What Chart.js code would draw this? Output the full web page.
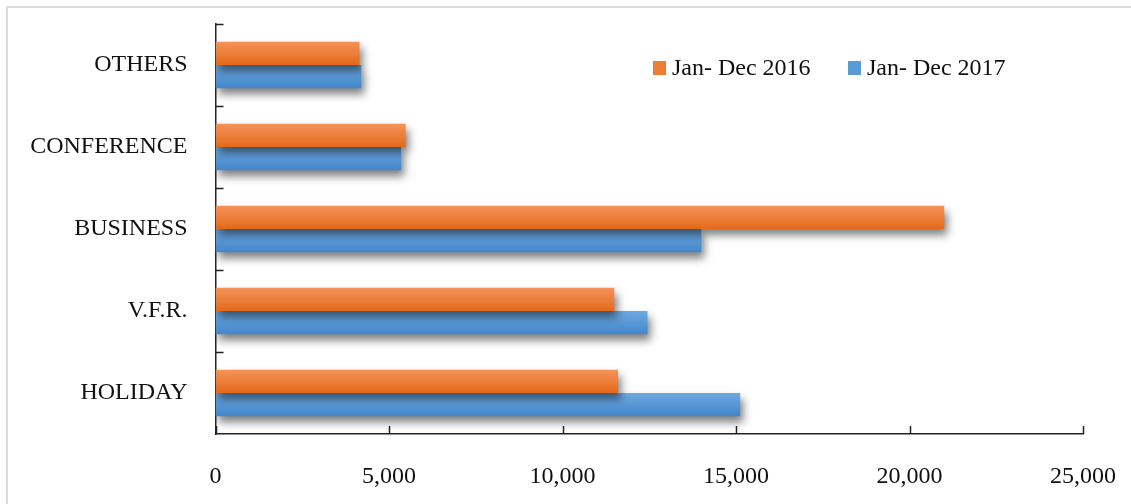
<!DOCTYPE html>
<html>
<head>
<meta charset="utf-8">
<script src="https://cdn.jsdelivr.net/npm/chart.js@4/dist/chart.umd.min.js"></script>
<style>
  html, body { margin: 0; padding: 0; background: #fff; }
  #wrap { width: 1131px; height: 504px; position: relative; }
</style>
</head>
<body>
<div id="wrap"><canvas id="c" width="1131" height="504"></canvas></div>
<script>
// Visitor arrivals by purpose of visit
const categories = ['OTHERS', 'CONFERENCE', 'BUSINESS', 'V.F.R.', 'HOLIDAY'];
const seriesLabels = ['Jan- Dec 2016', 'Jan- Dec 2017'];
const values2016 = [4150, 5480, 21000, 11490, 11600];
const values2017 = [4200, 5350, 14000, 12450, 15120];
const xTicks = [0, 5000, 10000, 15000, 20000, 25000];

const palette = [
  { top: '#f4935a', bottom: '#e4691a', swatch: '#ed7d31' },
  { top: '#6ea9e0', bottom: '#4286ca', swatch: '#5b9bd5' }
];
const serif = "'Liberation Serif', 'Times New Roman', serif";

// Vertical gradient on each bar plus a soft drop shadow
const barStyle = {
  id: 'barStyle',
  beforeDatasetsDraw(chart) {
    const ctx = chart.ctx;
    chart.data.datasets.forEach((ds, i) => {
      const meta = chart.getDatasetMeta(i);
      meta.data.forEach(el => {
        const h = el.height;
        const g = ctx.createLinearGradient(0, el.y - h / 2, 0, el.y + h / 2);
        g.addColorStop(0, palette[i].top);
        g.addColorStop(1, palette[i].bottom);
        // own copy per bar so shared option objects are not overwritten
        el.options = Object.assign({}, el.options, { backgroundColor: g });
      });
    });
    ctx.save();
    ctx.shadowColor = 'rgba(0,0,0,0.5)';
    ctx.shadowBlur = 9;
    ctx.shadowOffsetX = 3;
    ctx.shadowOffsetY = 6;
  },
  afterDatasetsDraw(chart) {
    chart.ctx.restore();
  }
};

// Inward tick marks, outer frame and the legend box in the plot
const decorations = {
  id: 'decorations',
  beforeDraw(chart) {
    const ctx = chart.ctx;
    ctx.save();
    ctx.strokeStyle = '#dcdcdc';
    ctx.lineWidth = 2;
    ctx.beginPath();
    ctx.moveTo(7, 504);
    ctx.lineTo(7, 7);
    ctx.lineTo(1131, 7);
    ctx.stroke();
    ctx.restore();
  },
  afterDraw(chart) {
    const ctx = chart.ctx;
    const area = chart.chartArea;
    const xs = chart.scales.x, ys = chart.scales.y;
    ctx.save();
    ctx.strokeStyle = '#222';
    ctx.lineWidth = 1.5;
    ctx.beginPath();
    xTicks.forEach(v => {
      const px = Math.round(xs.getPixelForValue(v)) + 0.5;
      ctx.moveTo(px, area.bottom);
      ctx.lineTo(px, area.bottom - 8);
    });
    const half = (ys.getPixelForValue(1) - ys.getPixelForValue(0)) / 2;
    for (let i = 0; i < categories.length; i++) {
      const py = Math.round(ys.getPixelForValue(i) - half) + 0.5;
      ctx.moveTo(area.left, py);
      ctx.lineTo(area.left + 8, py);
    }
    ctx.stroke();

    // legend
    const items = [{ x: 653 }, { x: 848 }];
    ctx.font = '24px ' + serif;
    ctx.textBaseline = 'middle';
    chart.data.datasets.forEach((ds, i) => {
      const x = items[i].x;
      ctx.fillStyle = palette[i].swatch;
      ctx.fillRect(x, 61, 13, 14);
      ctx.fillStyle = '#111';
      ctx.fillText(ds.label, x + 19, 69);
    });
    ctx.restore();
  }
};

new Chart(document.getElementById('c'), {
  type: 'bar',
  data: {
    labels: categories,
    datasets: [
      { label: seriesLabels[0], data: values2016, backgroundColor: palette[0].swatch, borderWidth: 0 },
      { label: seriesLabels[1], data: values2017, backgroundColor: palette[1].swatch, borderWidth: 0 }
    ]
  },
  options: {
    indexAxis: 'y',
    responsive: false,
    animation: false,
    events: [],
    layout: { padding: { left: 0, right: 48, top: 24, bottom: 0 } },
    datasets: { bar: { categoryPercentage: 0.57, barPercentage: 1.0 } },
    plugins: { legend: { display: false }, tooltip: { enabled: false } },
    scales: {
      x: {
        min: 0, max: 25000,
        afterBuildTicks(scale) { scale.ticks = xTicks.map(v => ({ value: v })); },
        afterFit(scale) {
          scale.height = 70;
          scale.paddingLeft = 0;
          scale.paddingRight = 0;
        },
        grid: { display: false, drawTicks: false },
        border: { display: true, color: '#222', width: 1.5 },
        ticks: {
          padding: 28,
          color: '#111',
          font: { family: serif, size: 24 },
          maxRotation: 0,
          callback: v => v.toLocaleString('en-US')
        }
      },
      y: {
        afterFit(scale) {
          scale.width = 215.5;
          scale.paddingTop = 0;
          scale.paddingBottom = 0;
        },
        grid: { display: false, drawTicks: false },
        border: { display: true, color: '#222', width: 1.5 },
        ticks: {
          padding: 28,
          color: '#111',
          font: { family: serif, size: 24 }
        }
      }
    }
  },
  plugins: [barStyle, decorations]
});
</script>
</body>
</html>
